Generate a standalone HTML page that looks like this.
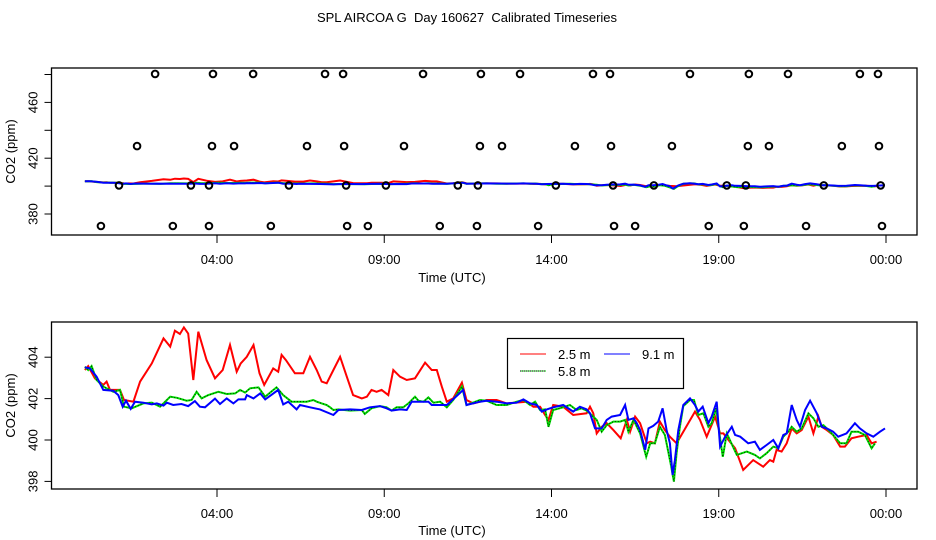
<!DOCTYPE html>
<html><head><meta charset="utf-8">
<style>
html,body{margin:0;padding:0;background:#fff;}
svg{display:block;font-family:"Liberation Sans",sans-serif;}
</style></head>
<body>
<svg id="chart" width="936" height="540" viewBox="0 0 936 540">
<text x="467" y="22" font-size="13" text-anchor="middle" style="white-space:pre" xml:space="preserve">SPL AIRCOA G  Day 160627  Calibrated Timeseries</text>
</svg>
<script>
// ---- data ----
const xTickHours = [4, 9, 14, 19, 24];
const xTickLabels = ["04:00", "09:00", "14:00", "19:00", "00:00"];
const topYTicks = [380, 400, 420, 440, 460, 480];
const topYLabels = ["380", "", "420", "", "460", ""];
const botYTicks = [398, 400, 402, 404];
const botYLabels = ["398", "400", "402", "404"];
const seriesNames = ["2.5 m", "5.8 m", "9.1 m"];

const redHours = [0.05,0.15,0.35,0.60,0.70,0.80,1.10,1.22,1.50,1.70,2.05,2.40,2.60,2.74,2.89,3.01,3.14,3.29,3.44,3.69,3.94,4.17,4.39,4.59,4.71,4.89,5.09,5.27,5.41,5.68,5.83,5.93,6.06,6.33,6.48,6.58,6.78,6.98,7.13,7.28,7.48,7.68,7.88,8.07,8.33,8.48,8.62,8.77,8.92,9.12,9.27,9.47,9.67,9.92,10.22,10.42,10.57,10.72,10.87,11.06,11.32,11.46,11.66,12.06,12.36,12.66,13.26,13.46,13.66,13.81,13.91,14.05,14.35,14.65,15.05,15.15,15.25,15.35,15.50,15.65,15.85,16.07,16.25,16.35,16.50,16.65,16.85,16.95,17.09,17.24,17.39,17.54,17.74,17.94,18.29,18.44,18.64,18.89,19.04,19.14,19.29,19.49,19.73,20.03,20.33,20.53,20.63,20.73,20.88,21.03,21.18,21.33,21.48,21.68,21.83,21.98,22.08,22.23,22.42,22.63,22.77,22.97,23.17,23.42,23.57,23.72];
const redValues = [403.38,403.57,402.98,402.66,402.82,402.42,402.42,401.93,401.85,402.82,403.70,404.91,404.51,405.28,405.12,405.44,405.14,402.90,405.23,403.86,402.98,403.38,404.59,403.30,403.70,404.02,404.59,403.22,402.66,403.46,403.30,404.11,403.86,403.22,403.22,403.22,404.02,403.38,402.82,402.74,403.38,404.02,403.06,402.17,402.01,402.09,402.42,402.33,402.42,402.17,403.38,403.06,402.90,402.98,403.74,403.38,403.38,402.58,401.85,402.01,402.77,401.93,401.77,401.93,401.93,401.77,401.85,401.61,401.61,401.21,400.97,401.69,401.61,401.21,401.29,401.61,401.29,400.32,400.64,400.81,400.48,400.08,400.97,400.40,401.13,400.81,399.84,399.92,399.84,400.89,400.48,400.16,399.84,400.40,401.37,400.97,400.16,401.13,400.32,400.32,400.00,399.60,398.55,399.03,398.71,399.03,398.95,399.52,399.44,399.84,400.56,400.32,400.48,401.13,400.32,401.13,400.64,400.48,400.24,399.68,399.68,400.08,400.16,400.24,399.84,399.92];

const greenHours = [0.05,0.15,0.25,0.40,0.60,0.90,1.10,1.22,1.45,1.80,2.05,2.30,2.60,2.80,3.09,3.24,3.39,3.54,3.74,4.04,4.29,4.54,4.69,4.84,4.99,5.24,5.44,5.78,5.98,6.23,6.48,6.68,6.88,6.98,7.13,7.28,7.38,7.48,7.63,7.98,8.33,8.42,8.62,8.87,9.07,9.22,9.37,9.57,9.72,9.92,10.02,10.17,10.32,10.47,10.67,10.87,11.06,11.32,11.46,11.86,12.06,12.36,12.66,12.96,13.16,13.36,13.51,13.66,13.81,13.91,14.05,14.35,14.55,14.75,14.90,15.05,15.20,15.35,15.50,15.65,15.85,16.05,16.20,16.30,16.45,16.65,16.83,16.95,17.09,17.24,17.39,17.56,17.66,17.74,17.84,17.94,18.14,18.26,18.39,18.54,18.69,18.79,18.92,19.04,19.12,19.24,19.54,19.84,20.08,20.23,20.43,20.63,20.78,20.93,21.08,21.18,21.33,21.48,21.68,21.83,21.98,22.13,22.28,22.42,22.63,22.82,22.97,23.17,23.37,23.57,23.67];
const greenValues = [403.54,403.38,403.57,402.90,402.58,402.33,402.42,401.61,401.53,401.77,401.80,401.61,402.09,402.04,401.90,401.93,402.33,402.01,402.17,402.33,402.22,402.25,402.42,402.29,402.50,402.54,402.09,402.54,402.17,401.85,401.85,401.85,401.93,401.85,401.77,401.69,401.58,401.45,401.48,401.42,401.45,401.26,401.53,401.64,401.58,401.42,401.58,401.58,401.77,402.09,401.90,401.85,402.06,401.80,401.85,401.58,401.93,402.58,401.69,401.93,401.90,401.69,401.69,401.85,401.93,401.69,401.85,401.45,401.48,400.64,401.45,401.58,401.69,401.45,401.53,401.42,401.21,400.97,400.40,400.72,400.89,400.89,400.97,400.40,400.97,400.32,399.19,399.84,399.84,400.64,400.24,398.87,397.99,399.36,400.64,401.64,401.93,401.93,401.21,401.29,400.64,400.81,401.53,400.08,399.19,400.32,399.28,399.44,399.28,399.11,399.36,399.68,399.60,400.16,400.40,400.64,400.40,400.56,401.29,401.05,400.64,400.72,400.48,400.24,399.84,399.84,400.40,400.40,400.24,399.60,399.84];

const blueHours = [0.05,0.20,0.40,0.60,0.90,1.05,1.18,1.28,1.42,1.55,1.80,2.05,2.20,2.40,2.50,2.69,2.94,3.14,3.34,3.49,3.64,3.94,4.09,4.29,4.49,4.64,4.84,4.89,5.09,5.29,5.44,5.83,5.98,6.13,6.38,6.48,6.78,7.08,7.48,7.63,7.98,8.33,8.57,8.87,9.07,9.22,9.47,9.67,9.82,10.32,10.42,10.87,11.17,11.36,11.46,11.86,12.06,12.36,12.66,12.96,13.16,13.36,13.56,13.71,13.86,14.05,14.35,14.65,14.85,15.05,15.15,15.30,15.50,15.65,15.80,16.05,16.20,16.30,16.45,16.55,16.65,16.80,16.90,17.04,17.19,17.32,17.44,17.54,17.62,17.69,17.79,17.94,18.14,18.29,18.39,18.52,18.69,18.79,18.94,19.04,19.19,19.39,19.49,19.64,19.88,20.08,20.23,20.43,20.63,20.78,20.93,21.03,21.18,21.33,21.43,21.58,21.73,21.93,22.08,22.23,22.42,22.57,22.82,23.07,23.22,23.42,23.62,23.82,23.97];
const blueValues = [403.51,403.46,403.06,402.42,402.38,402.17,401.61,401.90,401.50,401.85,401.80,401.72,401.77,401.66,401.80,401.69,401.74,401.64,401.88,401.61,401.58,402.00,401.74,402.01,401.77,401.96,401.96,402.17,402.01,402.25,401.96,402.42,401.72,401.85,401.48,401.69,401.58,401.48,401.21,401.45,401.48,401.45,401.58,401.64,401.53,401.42,401.48,401.45,401.85,401.85,401.69,401.69,402.13,402.42,401.69,401.85,401.90,401.85,401.77,401.80,401.96,401.77,401.69,401.37,401.48,401.58,401.69,401.37,401.61,401.48,401.29,400.56,400.56,400.97,401.13,401.21,401.69,400.97,401.05,400.81,400.48,399.52,400.56,400.68,400.89,401.53,400.48,399.84,398.31,399.03,400.48,401.69,402.01,401.69,401.37,401.61,400.81,401.13,401.85,399.68,400.16,400.64,400.24,400.16,399.84,399.92,399.52,399.76,400.00,399.60,400.24,400.32,401.69,400.97,400.64,401.45,401.90,401.29,400.64,400.56,400.40,400.16,400.32,400.81,400.56,400.32,400.16,400.40,400.56];

// outlier / calibration circles in top panel
const circleHours480 = [2.15,3.88,5.08,7.23,7.77,10.16,11.89,13.06,15.24,15.75,18.14,19.90,21.07,23.22,23.76];
const circleHours428 = [1.61,3.85,4.51,6.69,7.80,9.59,11.86,12.52,14.70,15.78,17.60,19.87,20.50,22.68,23.79];
const circleHours400 = [1.07,3.22,3.76,6.15,7.86,9.05,11.20,11.80,14.13,15.84,17.06,19.24,19.81,22.14,23.84];
const circleHours371 = [0.53,2.68,3.76,5.61,7.89,8.51,10.66,11.77,13.60,15.87,16.50,18.70,19.75,21.61,23.88];
const circleLevels = [480.4, 428.7, 400.5, 371.4];

// ---- layout ----
const NS = "http://www.w3.org/2000/svg";
const svg = document.getElementById("chart");
const X0 = 51.5, X1 = 917;
const xScale = h => 83.2 + h * 33.45;
const topP = {t: 68, b: 235, y: v => 214 - (v - 380) * 1.395};
const botP = {t: 322, b: 489, y: v => 440 - (v - 400) * 20.7};

function mk(tag, attrs, parent) {
  const e = document.createElementNS(NS, tag);
  for (const k in attrs) e.setAttribute(k, attrs[k]);
  (parent || svg).appendChild(e);
  return e;
}

function panel(p, name, yTicks, yLabels, tickY, timeLabY) {
  const g = mk("g", {});
  
  
  const clipId = name + "-clip";
  const cp = mk("clipPath", {id: clipId}, g);
  mk("rect", {x: X0, y: p.t, width: X1 - X0, height: p.b - p.t}, cp);
  const plot = mk("g", {"clip-path": "url(#" + clipId + ")"}, g);
  
  
  const frame = mk("rect", {x: X0, y: p.t, width: X1 - X0, height: p.b - p.t, fill: "none", stroke: "#000", "stroke-width": 1.3}, g);
  
  
  xTickHours.forEach((h, i) => {
    const x = xScale(h);
    const t = mk("line", {x1: x, x2: x, y1: p.b, y2: p.b + 8, stroke: "#000", "stroke-width": 1}, g);
    
    
    const l = mk("text", {x: x, y: tickY, "font-size": 13, "text-anchor": "middle"}, g);
    l.textContent = xTickLabels[i];
    
    
  });
  yTicks.forEach((v, i) => {
    const y = p.y(v);
    const t = mk("line", {x1: X0 - 7, x2: X0, y1: y, y2: y, stroke: "#000", "stroke-width": 1}, g);
    
    
    if (yLabels[i]) {
      const l = mk("text", {x: 0, y: 0, "font-size": 13, "text-anchor": "middle", transform: "translate(" + (X0 - 14) + "," + y + ") rotate(-90)"}, g);
      l.textContent = yLabels[i];
      
      
    }
  });
  const xt = mk("text", {x: 452, y: timeLabY, "font-size": 13, "text-anchor": "middle"}, g);
  xt.textContent = "Time (UTC)";
  
  
  const yc = (p.t + p.b) / 2;
  const yt = mk("text", {x: 0, y: 0, "font-size": 13, "text-anchor": "middle", transform: "translate(15," + yc + ") rotate(-90)"}, g);
  yt.textContent = "CO2 (ppm)";
  
  
  return plot;
}

function drawLine(plot, p, hours, vals, color, width, name) {
  const pts = hours.map((h, i) => xScale(h).toFixed(1) + "," + p.y(vals[i]).toFixed(1)).join(" ");
  const l = mk("polyline", {points: pts, fill: "none", stroke: color, "stroke-width": width}, plot);
  
  
  return l;
}

function drawSeries(plot, p, w) {
  drawLine(plot, p, redHours, redValues, "#ff0000", w, "series-2-5m");
  drawLine(plot, p, greenHours, greenValues, "#00e000", w, "series-5-8m");
  const d = drawLine(plot, p, greenHours, greenValues, "#000", 0.8, "series-5-8m-dots");
  d.setAttribute("stroke-dasharray", "1,2");
  drawLine(plot, p, blueHours, blueValues, "#0000ff", w, "series-9-1m");
}

const topPlot = panel(topP, "top-panel", topYTicks, topYLabels, 264, 282);
const botPlot = panel(botP, "bottom-panel", botYTicks, botYLabels, 518, 535);

drawSeries(topPlot, topP, 2);
[circleHours480, circleHours428, circleHours400, circleHours371].forEach((arr, k) => {
  arr.forEach(h => {
    const c = mk("circle", {cx: xScale(h), cy: topP.y(circleLevels[k]), r: 3.3, fill: "none", stroke: "#000", "stroke-width": 2}, topPlot);
    
    
  });
});
drawSeries(botPlot, botP, 2);

// legend
const lg = mk("g", {});


mk("rect", {x: 507.5, y: 338.5, width: 176, height: 50, fill: "#fff", stroke: "#000", "stroke-width": 1.2}, lg);
const legendPos = [[520, 354], [520, 371], [604, 354]];
const legendColors = ["#ff0000", "#00e000", "#0000ff"];
seriesNames.forEach((n, i) => {
  const [lx, ly] = legendPos[i];
  const e = mk("g", {}, lg);
  
  
  mk("line", {x1: lx, x2: lx + 26, y1: ly, y2: ly, stroke: legendColors[i], "stroke-width": 1}, e);
  if (i === 1) mk("line", {x1: lx, x2: lx + 26, y1: ly, y2: ly, stroke: "#000", "stroke-width": 1, "stroke-dasharray": "1,1"}, e);
  const t = mk("text", {x: lx + 38, y: ly + 5, "font-size": 13}, e);
  t.textContent = n;
});
</script>
</body></html>
